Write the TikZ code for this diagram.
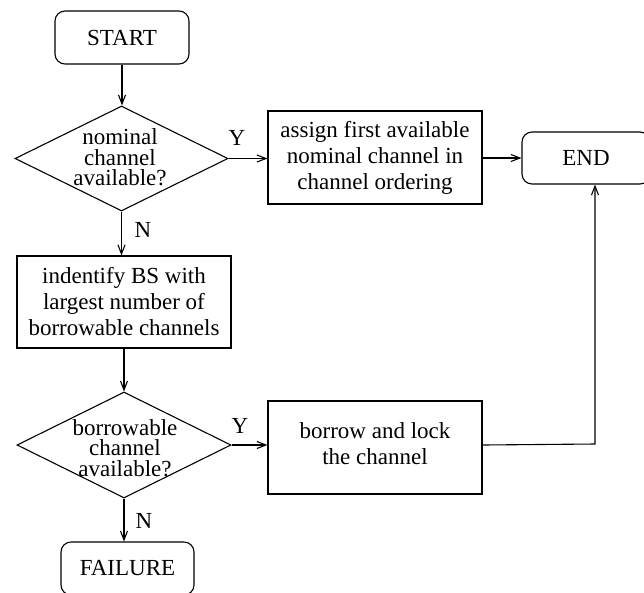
\documentclass[tikz,border=0pt]{standalone}
\usepackage{fontspec}
\setmainfont{Liberation Serif}
\usetikzlibrary{arrows.meta,shapes.geometric}
\begin{document}
\begin{tikzpicture}[x=1pt,y=-1pt,
  line width=1.1pt,
  every node/.style={font=\fontsize{23}{26}\selectfont},
  box/.style={draw,rectangle,inner sep=0pt,align=center},
  term/.style={draw,rectangle,rounded corners=10pt,inner sep=0pt,align=center},
  dia/.style={draw,diamond,inner sep=0pt},
  dtext/.style={align=center,inner sep=0pt,font=\fontsize{23}{20.5}\selectfont},
  lbl/.style={inner sep=0pt},
  arr/.style={-{Straight Barb[length=9pt,width=7pt]}}]
\useasboundingbox (0,0) rectangle (644,592);

\node[term,minimum width=134pt,minimum height=53pt] (start) at (122,37.5) {START};
\node[dia,minimum width=213pt,minimum height=105pt] (d1) at (121.5,158.5) {};
\node[dtext] (d1t) at (120,157.5) {nominal\\channel\\available?};
\node[box,minimum width=214pt,minimum height=93pt] (b1) at (375,157.5) {assign first available\\nominal channel in\\channel ordering};
\node[term,minimum width=128pt,minimum height=52pt] (endn) at (586,158) {END};
\node[box,minimum width=214pt,minimum height=92pt] (b2) at (124,302) {indentify BS with\\largest number of\\borrowable channels};
\node[dia,minimum width=214pt,minimum height=106pt] (d2) at (124,445) {};
\node[dtext] (d2t) at (125,448) {borrowable\\channel\\available?};
\node[box,minimum width=214pt,minimum height=93pt] (b3) at (375,447.5) {};
\node[align=center,inner sep=0pt] (b3t) at (375,443.5) {borrow and lock\\the channel};
\node[term,minimum width=133pt,minimum height=53pt] (fail) at (127.5,568.5) {FAILURE};

\node[lbl] (y1) at (237,138) {Y};
\node[lbl] (n1) at (143,230) {N};
\node[lbl] (y2) at (240,426) {Y};
\node[lbl] (n2) at (144,521) {N};

\coordinate (c) at (595,444);

\draw[arr] (start.south) -- (start.south |- d1.north);
\draw[arr] (d1.east) -- (d1.east -| b1.west);
\draw[arr] (b1.east |- endn.west) -- (endn.west);
\draw[arr] (d1.south) -- (d1.south |- b2.north);
\draw[arr] (b2.south) -- (b2.south |- d2.north);
\draw[arr] (d2.east) -- (d2.east -| b3.west);
\draw[arr] (d2.south) -- (d2.south |- fail.north);
\draw[arr] (d2.east -| b3.east) -- (c) -- (c |- endn.south);
\end{tikzpicture}
\end{document}
